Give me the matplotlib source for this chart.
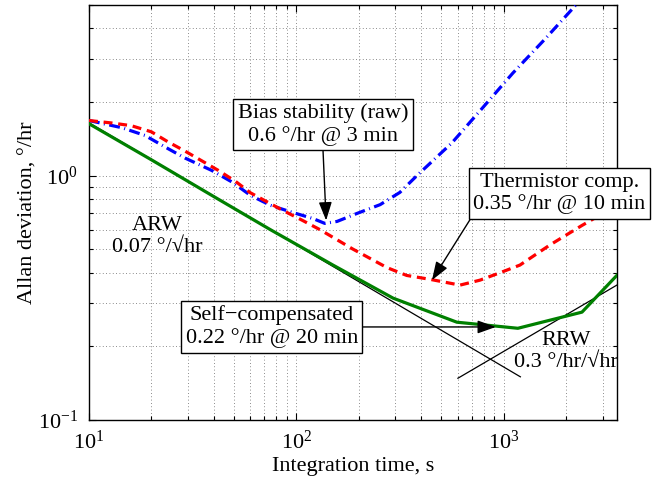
import matplotlib
matplotlib.use("Agg")
import matplotlib.pyplot as plt

plt.rcParams['font.family'] = ['Liberation Serif', 'DejaVu Serif']
plt.rcParams['mathtext.fontset'] = 'stix'
plt.rcParams['font.size'] = 16

# raw gyro (blue dash-dot)
tau_raw = [10, 14.4, 18.6, 24, 29, 39, 49, 60, 75, 96, 120, 137, 157, 196, 253, 315,
           381, 561, 792, 1105, 1577, 2198, 2600]
adev_raw = [1.68, 1.57, 1.46, 1.29, 1.18, 1.05, 0.94, 0.83, 0.755, 0.706, 0.667, 0.637,
            0.649, 0.70, 0.76, 0.853, 1.0, 1.36, 1.90, 2.63, 3.62, 4.94, 5.8]

# thermistor compensated (red dashed)
tau_therm = [10, 13, 16, 20, 24, 29, 42, 51, 60, 86, 107, 130, 187, 273, 340, 440, 614,
             766, 957, 1194, 1667, 2379, 3500]
adev_therm = [1.68, 1.64, 1.60, 1.51, 1.375, 1.26, 1.05, 0.945, 0.85, 0.72, 0.655, 0.60,
              0.50, 0.42, 0.39, 0.376, 0.356, 0.373, 0.40, 0.43, 0.52, 0.625, 0.755]

# self-compensated (green)
tau_self = [10, 20, 40, 75, 150, 292, 593, 1167, 2378, 3540]
adev_self = [1.63, 1.16, 0.82, 0.60, 0.43, 0.315, 0.251, 0.237, 0.276, 0.394]

# slope asymptotes
tau_arw = [10, 1200]
adev_arw = [1.645, 0.150]
tau_rrw = [600, 3500]
adev_rrw = [0.148, 0.356]

fig = plt.figure(figsize=(6.59, 4.82), dpi=100)
ax = fig.add_axes([0.135, 0.129, 0.801, 0.861])

ax.plot(tau_arw, adev_arw, color='k', lw=0.9, zorder=2)
ax.plot(tau_rrw, adev_rrw, color='k', lw=0.9, zorder=2)
ax.plot(tau_raw, adev_raw, color=(0, 0, 1), lw=2.3, linestyle=(0, (3.4, 1.4, 0.3, 1.4)), zorder=3)
ax.plot(tau_therm, adev_therm, color=(1, 0, 0), lw=2.3, linestyle=(0, (2.8, 1.8)), zorder=3)
ax.plot(tau_self, adev_self, color=(0, 0.5, 0), lw=2.3, zorder=3)

ax.set_xscale('log')
ax.set_yscale('log')
ax.set_xlim(10, 3500)
ax.set_ylim(0.1, 5)

ax.grid(True, which='both', color='0.4', linestyle=(0, (1, 3)), lw=0.6)
ax.tick_params(which='both', direction='in', top=True, right=True, width=0.8)
ax.tick_params(which='major', length=5, pad=8)
ax.tick_params(which='minor', length=3)
for s in ax.spines.values():
    s.set_linewidth(1.0)

ax.set_xlabel('Integration time, s', labelpad=2)
ax.set_ylabel('Allan deviation, °/hr', labelpad=0)

box = dict(boxstyle='square,pad=0.2', fc='white', ec='k', lw=1)

ax.annotate('Bias stability (raw)\n0.6 °/hr @ 3 min', xy=(139, 0.655), xytext=(134, 1.615),
            ha='center', va='center', multialignment='center', bbox=box, zorder=5,
            arrowprops=dict(arrowstyle='-|>,head_length=0.7,head_width=0.25', color='k', lw=1,
                            shrinkA=0, shrinkB=0, relpos=(0.5, 0)))

ax.annotate('Thermistor comp.\n0.35 °/hr @ 10 min', xy=(450, 0.373), xytext=(1850, 0.844),
            ha='center', va='center', multialignment='center', bbox=box, zorder=5,
            annotation_clip=False,
            arrowprops=dict(arrowstyle='-|>,head_length=0.7,head_width=0.25', color='k', lw=1,
                            shrinkA=0, shrinkB=0, relpos=(0, 0)))

ax.annotate('Self\u2212compensated\n0.22 °/hr @ 20 min', xy=(914, 0.240), xytext=(76, 0.240),
            ha='center', va='center', multialignment='center', bbox=box, zorder=5,
            arrowprops=dict(arrowstyle='-|>,head_length=0.7,head_width=0.25', color='k', lw=1,
                            shrinkA=0, shrinkB=0, relpos=(1, 0.5)))

ax.text(21.3, 0.564, 'ARW\n0.07 °/√hr', ha='center', va='center', multialignment='center')
ax.text(1991, 0.19, 'RRW\n0.3 °/hr/√hr', ha='center', va='center', multialignment='center')

fig.savefig('out.png', dpi=100)
